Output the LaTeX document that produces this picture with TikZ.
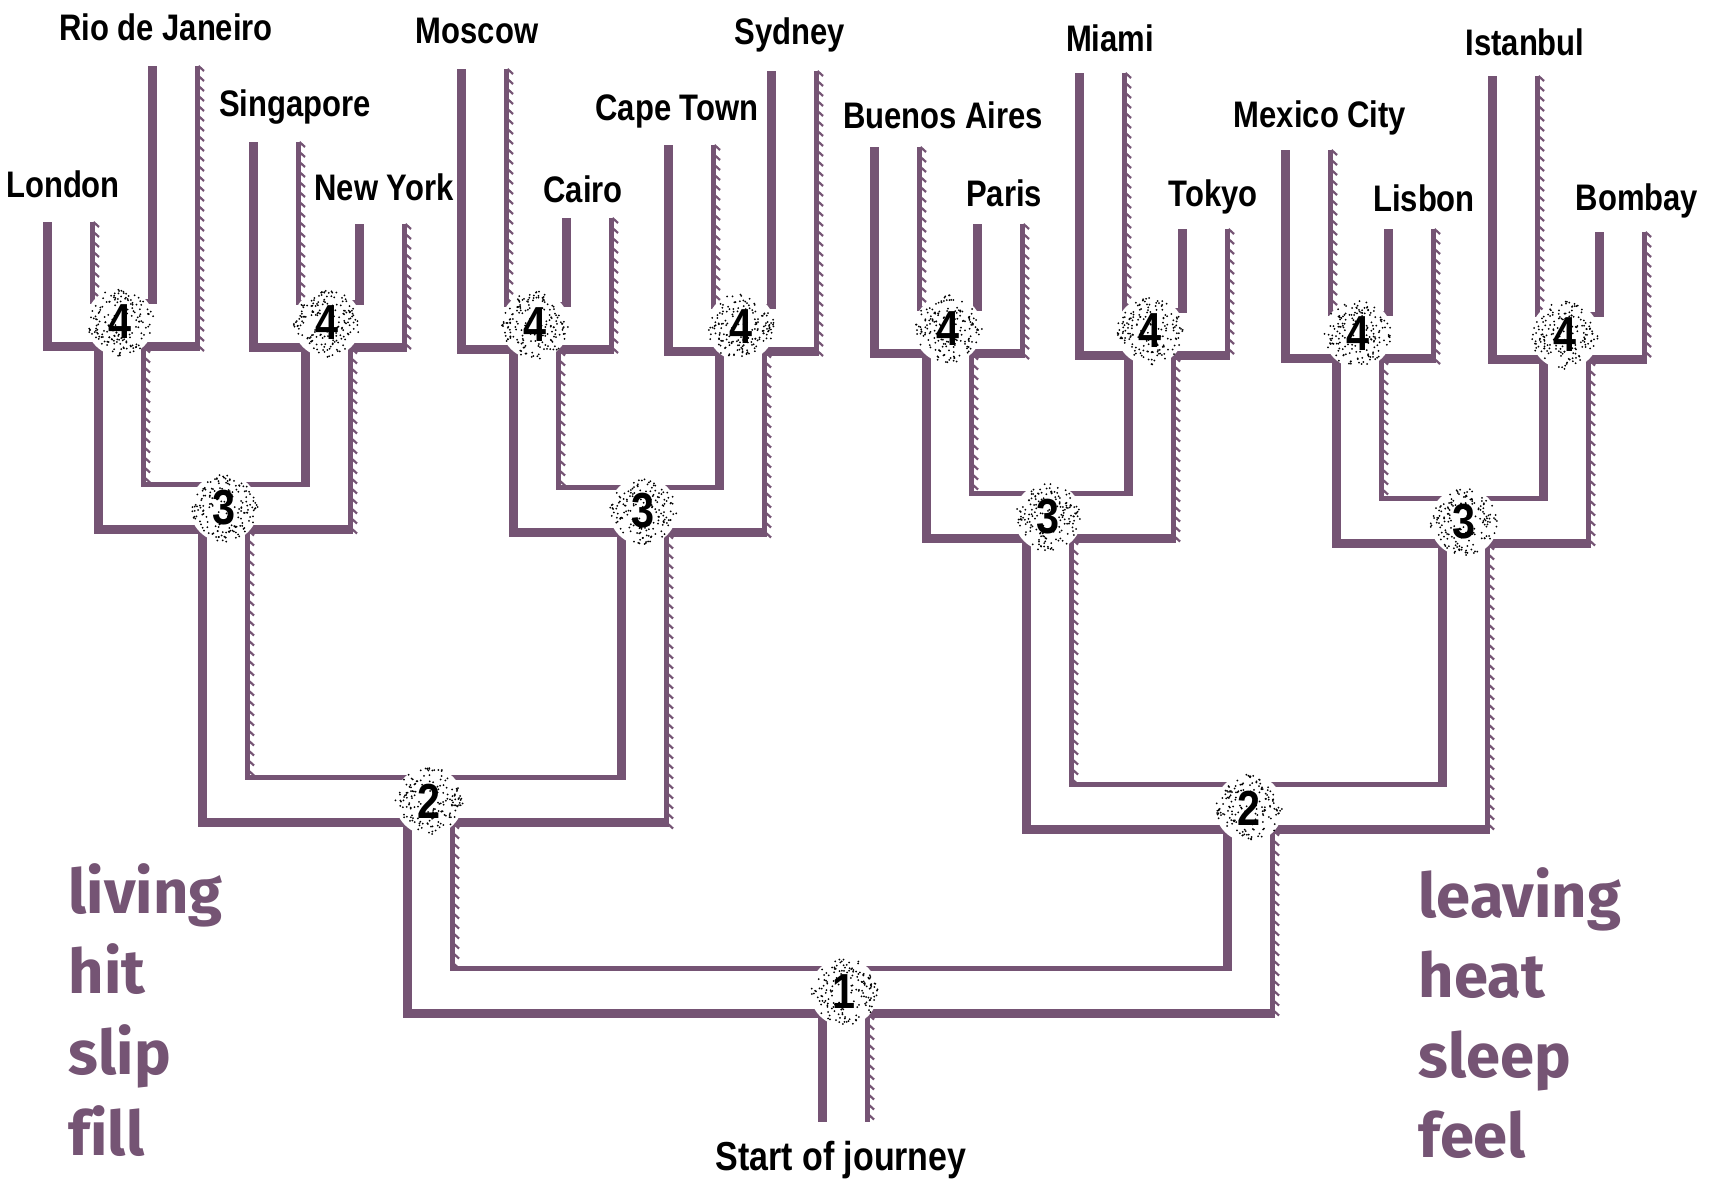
\documentclass[tikz,border=0pt]{standalone}
\usepackage{fontspec}
\setmainfont{Liberation Sans}
\newfontfamily\cityfont{Liberation Sans}[FakeStretch=0.84]
\newfontfamily\wordfont{Fira Sans}[Ligatures=NoCommon]
\usetikzlibrary{calc}
\pgfdeclarelayer{background}
\pgfdeclarelayer{foreground}
\pgfsetlayers{background,main,foreground}
\definecolor{mazepurple}{RGB}{117,84,116}

\tikzset{
  wall/.style={draw=mazepurple, line width=0.52cm},
  floor/.style={draw=white, line width=0.38cm, shift={(2,-2)}},
  tick/.style={draw=mazepurple, line width=0.022cm},
  city/.style={font=\cityfont\bfseries\fontsize{10.5}{12}\selectfont, inner sep=0pt},
  start/.style={font=\cityfont\bfseries\fontsize{11.5}{13}\selectfont, inner sep=0pt},
  num/.style={font=\cityfont\bfseries\fontsize{14}{15}\selectfont, inner sep=0pt},
  word/.style={font=\wordfont\bfseries\fontsize{17.5}{20}\selectfont, text=mazepurple, inner sep=0pt, anchor=base west}
}

% left x, left top, junction y, right x, right top
\newcommand\fork[5]{(#1,#2) -- (#1,#3) -- (#4,#3) -- (#4,#5)}
\newcommand\mazepath{%
  \fork{69}{222}{325}{174}{66}
  \fork{275}{142}{326}{381}{224}
  \fork{483}{69}{328}{588}{218}
  \fork{690}{145}{330}{793}{71}
  \fork{896}{147}{332}{999}{224}
  \fork{1101}{73}{334}{1204}{229}
  \fork{1307}{150}{337}{1410}{229}
  \fork{1514}{76}{338}{1621}{232}
  \fork{120}{325}{508}{327}{326}
  \fork{535}{328}{511}{741}{330}
  \fork{948}{332}{517}{1150}{334}
  \fork{1358}{337}{522}{1565}{338}
  \fork{224}{508}{801}{643}{511}
  \fork{1048}{517}{808}{1464}{522}
  \fork{429}{801}{992}{1249}{808}
}
% x centre, from y, to y
\newcommand\hatch[3]{%
  \pgfmathsetmacro\hnext{#2+10}%
  \foreach \hy in {#2,\hnext,...,#3}
    \draw[tick] (#1+24.5,\hy) -- ++(5.5,5);}

\begin{document}
\begin{tikzpicture}[x=0.01cm, y=-0.01cm]
\useasboundingbox (0,0) rectangle (1713,1185);

\begin{pgfonlayer}{background}
\fill[white] (0,0) rectangle (1713,1185);
\draw[wall] \mazepath;
\draw[wall] (844,992) -- (844,1122);

\hatch{69}{222}{302.5} \hatch{174}{66}{347.5}
\hatch{275}{142}{303.5} \hatch{381}{224}{348.5}
\hatch{483}{69}{305.5} \hatch{588}{218}{350.5}
\hatch{690}{145}{307.5} \hatch{793}{71}{352.5}
\hatch{896}{147}{309.5} \hatch{999}{224}{354.5}
\hatch{1101}{73}{311.5} \hatch{1204}{229}{356.5}
\hatch{1307}{150}{314.5} \hatch{1410}{229}{359.5}
\hatch{1514}{76}{315.5} \hatch{1621}{232}{360.5}
\hatch{120}{347.5}{485.5} \hatch{327}{348.5}{530.5}
\hatch{535}{350.5}{488.5} \hatch{741}{352.5}{533.5}
\hatch{948}{354.5}{494.5} \hatch{1150}{356.5}{539.5}
\hatch{1358}{359.5}{499.5} \hatch{1565}{360.5}{544.5}
\hatch{224}{530.5}{778.5} \hatch{643}{533.5}{823.5}
\hatch{1048}{539.5}{785.5} \hatch{1464}{544.5}{830.5}
\hatch{429}{823.5}{969.5} \hatch{1249}{830.5}{1014.5}
\hatch{844}{1014.5}{1118}
\end{pgfonlayer}

\draw[floor] \mazepath;
\draw[floor] (844,992) -- (844,1126);

\begin{pgfonlayer}{foreground}
\pgfmathsetseed{7}
\foreach \x/\y/\n [count=\i] in {120/322/4, 327/323/4, 535/325/4, 741/327/4,
    948/329/4, 1150/331/4, 1358/334/4, 1565/335/4,
    224/508/3, 643/511/3, 1048/517/3, 1464/522/3,
    429/801/2, 1249/808/2, 844/992/1} {
  \fill[white] (\x,\y) circle (34);
  \foreach \k in {1,...,170}
    \fill (\x,\y) ++({360*rnd}:{34*sqrt(rnd)}) circle (1);
  \node[num] (stop\i) at (\x,\y) {\n};
}
\end{pgfonlayer}

\foreach \nm/\x/\y/\txt in {rio/166/27/Rio de Janeiro, moscow/477/31/Moscow,
    sydney/790/35/Sydney, miami/1110/38/Miami, istanbul/1525/42/Istanbul,
    singapore/295/107/Singapore, capetown/677/111/Cape Town,
    buenos/943/115/Buenos Aires, mexico/1320/118/Mexico City,
    london/63/184/London, newyork/384/187/New York, cairo/583/189/Cairo,
    paris/1004/193/Paris, tokyo/1213/197/Tokyo, lisbon/1424/198/Lisbon,
    bombay/1637/201/Bombay}
  \node[city] (\nm) at (\x,\y) {\txt};
\node[start] (start) at (841,1160) {Start of journey};

\foreach \w [count=\i] in {living,hit,slip,fill}
  \node[word] (left\i) at (68,{913+80.7*(\i-1)}) {\w};
\foreach \w [count=\i] in {leaving,heat,sleep,feel}
  \node[word] (right\i) at (1418,{917+80.3*(\i-1)}) {\w};

\end{tikzpicture}
\end{document}
